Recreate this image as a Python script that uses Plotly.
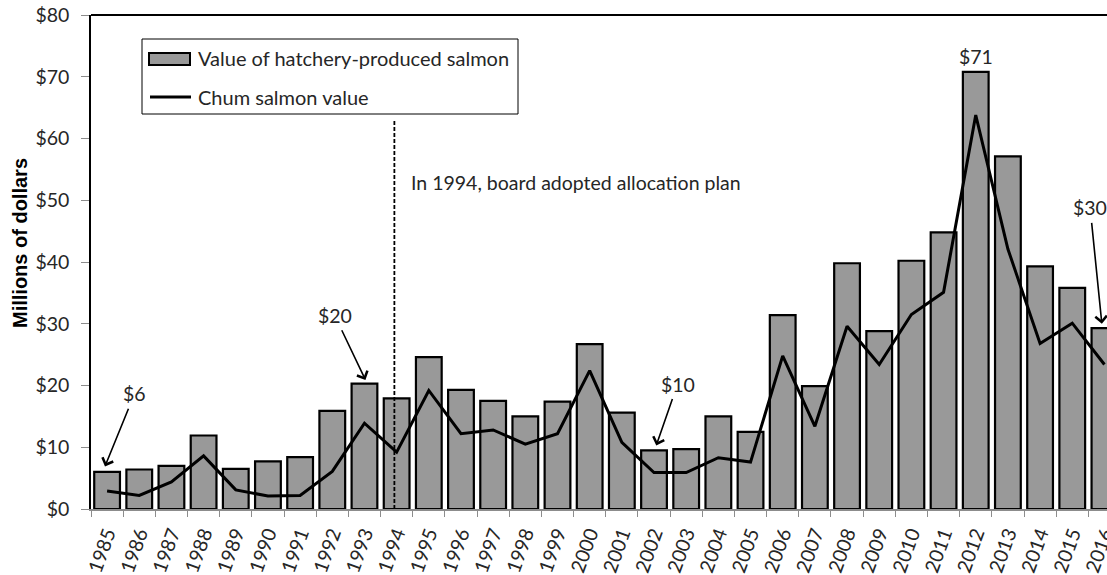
import plotly.graph_objects as go

years = ["1985", "1986", "1987", "1988", "1989", "1990", "1991", "1992", "1993", "1994",
         "1995", "1996", "1997", "1998", "1999", "2000", "2001", "2002", "2003", "2004",
         "2005", "2006", "2007", "2008", "2009", "2010", "2011", "2012", "2013", "2014",
         "2015", "2016"]
hatchery_value = [6.0, 6.4, 7.0, 11.9, 6.5, 7.7, 8.4, 15.9, 20.3, 17.9,
                  24.6, 19.3, 17.5, 15.0, 17.4, 26.7, 15.6, 9.5, 9.7, 15.0,
                  12.5, 31.4, 19.9, 39.8, 28.8, 40.2, 44.8, 70.8, 57.1, 39.3,
                  35.8, 29.3]
chum_value = [2.9, 2.2, 4.4, 8.6, 3.1, 2.1, 2.2, 6.1, 13.9, 9.2,
              19.2, 12.2, 12.8, 10.5, 12.2, 22.4, 10.8, 5.9, 5.9, 8.3,
              7.6, 24.8, 13.4, 29.6, 23.4, 31.5, 35.1, 63.8, 42.1, 26.8,
              30.1, 23.4]
y_ticks = [0, 10, 20, 30, 40, 50, 60, 70, 80]
y_tick_labels = ["$0", "$10", "$20", "$30", "$40", "$50", "$60", "$70", "$80"]

FONT = "Lato"
FS = 19.5
TXT = "#262626"
W, H = 1107, 575
ML, MR, MT, MB = 91, 0, 15, 66
PW, PH = W - ML - MR, H - MT - MB


def px(x):
    return (x - ML) / PW


def py(y):
    return (H - MB - y) / PH


fig = go.Figure()
fig.add_trace(go.Bar(
    x=years, y=hatchery_value, name="Value of hatchery-produced salmon",
    marker=dict(color="#999999", line=dict(color="black", width=2.2)),
    showlegend=False,
))
fig.add_trace(go.Scatter(
    x=years, y=chum_value, name="Chum salmon value", mode="lines",
    line=dict(color="black", width=3), showlegend=False,
))

shapes = []
# top border
shapes.append(dict(type="line", xref="paper", yref="paper", x0=0, x1=1, y0=1, y1=1,
                   line=dict(color="black", width=2)))
# 1994 dashed line
shapes.append(dict(type="line", xref="x", yref="y", x0=8.93, x1=8.93, y0=0, y1=63.1,
                   line=dict(color="black", width=1.8, dash="4px,2px")))
# custom legend
shapes.append(dict(type="rect", xref="paper", yref="paper",
                   x0=px(142), x1=px(518), y0=py(39), y1=py(114),
                   line=dict(color="black", width=1), fillcolor="white"))
shapes.append(dict(type="rect", xref="paper", yref="paper",
                   x0=px(149), x1=px(190), y0=py(53), y1=py(65),
                   line=dict(color="black", width=2), fillcolor="#999999"))
shapes.append(dict(type="line", xref="paper", yref="paper",
                   x0=px(150), x1=px(191), y0=py(97), y1=py(97),
                   line=dict(color="black", width=3)))

annotations = [
    dict(text="Value of hatchery-produced salmon", xref="paper", yref="paper",
         x=px(196), y=py(58), xanchor="left", yanchor="middle", showarrow=False,
         font=dict(size=20, color=TXT, family=FONT)),
    dict(text="Chum salmon value", xref="paper", yref="paper",
         x=px(196), y=py(97), xanchor="left", yanchor="middle", showarrow=False,
         font=dict(size=20, color=TXT, family=FONT)),
    dict(text="In 1994, board adopted allocation plan", xref="paper", yref="paper",
         x=px(409), y=py(182), xanchor="left", yanchor="middle", showarrow=False,
         font=dict(size=FS, color=TXT, family=FONT)),
    dict(text="Millions of dollars", xref="paper", yref="paper",
         x=px(20), y=py(243), xanchor="center", yanchor="middle", showarrow=False,
         textangle=-90, font=dict(size=20, color="black", family="Liberation Sans", weight="bold")),
    dict(text="$71", xref="x", yref="y", x=27, y=hatchery_value[27], showarrow=False,
         yanchor="middle", yshift=15, font=dict(size=FS, color=TXT, family=FONT)),
]
arrow_notes = [
    ("$6", -0.065, 6.9, 29.5, -72.5),
    ("$20", 8.03, 20.9, -30.7, -64.5),
    ("$10", 17.07, 10.3, 21.3, -61.2),
    ("$30", 30.92, 30.0, -11.7, -115.8),
]
for t, x, y, ax, ay in arrow_notes:
    annotations.append(dict(
        text=t, xref="x", yref="y", x=x, y=y, ax=ax, ay=ay, axref="pixel", ayref="pixel",
        showarrow=True, arrowhead=4, arrowsize=1.4, arrowwidth=1.6, arrowcolor="black",
        standoff=0, startstandoff=2,
        font=dict(size=FS, color=TXT, family=FONT),
    ))

fig.update_layout(
    width=W, height=H, autosize=False,
    margin=dict(l=ML, r=MR, t=MT, b=MB),
    paper_bgcolor="white", plot_bgcolor="white",
    bargap=0.2,
    shapes=shapes, annotations=annotations,
    showlegend=False,
    xaxis=dict(
        type="category", range=[-0.5, 31.08], automargin=False,
        tickson="boundaries", ticks="outside", ticklen=6, tickcolor="#8c8c8c", tickwidth=1,
        showline=True, linecolor="#8c8c8c", linewidth=1.5, ticklabelstandoff=4,
        tickangle=-70, tickfont=dict(size=FS, color=TXT, family=FONT),
        showgrid=False, zeroline=False,
    ),
    yaxis=dict(
        range=[0, 80], tickvals=y_ticks, ticktext=y_tick_labels, automargin=False,
        ticks="outside", ticklen=8, tickcolor="#8c8c8c", tickwidth=1,
        showline=True, linecolor="black", linewidth=1.5, ticklabelstandoff=8,
        tickfont=dict(size=FS, color=TXT, family=FONT),
        showgrid=False, zeroline=False,
    ),
)

fig.write_html(
    "out.html",
    config={"displayModeBar": False, "responsive": False},
    post_script=("document.documentElement.style.overflow='hidden';"
                 "document.body.style.overflow='hidden';"
                 "document.body.style.margin='0px';"),
)
